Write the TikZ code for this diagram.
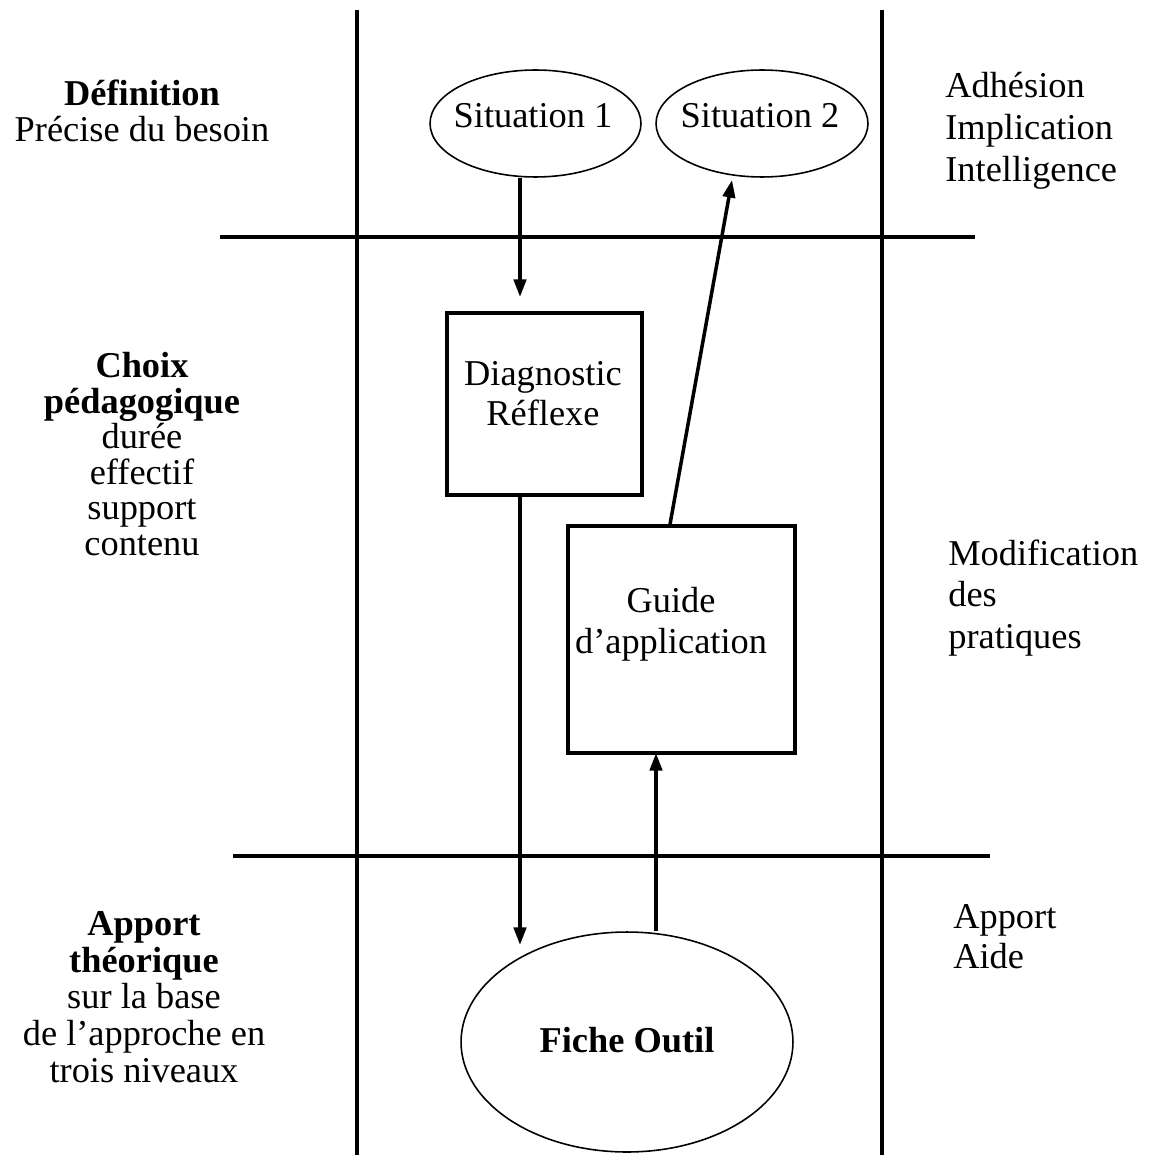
\documentclass[tikz,border=0pt]{standalone}
\usepackage{fontspec}
\setmainfont{Liberation Serif}
\usetikzlibrary{arrows.meta, shapes.geometric}

\tikzset{
  sep/.style={line width=2pt},
  arr/.style={line width=2pt, -{Triangle[length=10pt, width=7pt]}},
  sit/.style={ellipse, draw, line width=0.9pt},
  boite/.style={rectangle, draw, line width=2pt},
  txt/.style={inner sep=0pt, anchor=base, font=\fontsize{20.7}{21}\selectfont}
}

\begin{document}
\begin{tikzpicture}[x=0.02cm, y=-0.02cm]
\useasboundingbox (0,0) rectangle (1152,1155);
% grille
\draw[sep] (357,10) -- (357,1155);
\draw[sep] (882,10) -- (882,1155);
\draw[sep] (220,237) -- (975,237);
\draw[sep] (233,856) -- (990,856);

% formes
\node[sit, minimum width=4.22cm, minimum height=2.14cm] (s1) at (535.5,123.5) {};
\node[sit, minimum width=4.24cm, minimum height=2.14cm] (s2) at (762,123.5) {};
\node[boite, minimum width=3.9cm, minimum height=3.64cm] (diag) at (544.5,404) {};
\node[boite, minimum width=4.54cm, minimum height=4.54cm] (guide) at (681.5,639.5) {};
\node[sit, minimum width=6.64cm, minimum height=4.4cm] (fiche) at (627,1042) {};

\node[txt] (s1t) at (533,128) {Situation 1};
\node[txt] (s2t) at (760,128) {Situation 2};
\node[txt, align=center, font=\fontsize{20.7}{22.7}\selectfont] (diagt) at (543,425) {Diagnostic\\Réflexe};
\node[txt, align=center, font=\fontsize{20.7}{23.2}\selectfont] (guidet) at (671,653) {Guide\\d’application};
\node[txt] (fichet) at (627,1052) {\bfseries Fiche Outil};

% fleches
\coordinate (a1) at (520,297);
\coordinate (a2) at (520,945);
\coordinate (a3) at (656,753);
\coordinate (a4) at (732,180);
\draw[arr] (s1.south -| a1) -- (a1);
\draw[arr] (diag.south -| a2) -- (a2);
\draw[arr] (fiche.north -| a3) -- (a3);
\draw[arr] (guide.north -| 670,0) -- (a4);

% colonne gauche
\node[txt, align=center, font=\fontsize{20.7}{21}\selectfont] (defin) at (142,142) {\textbf{Définition}\\Précise du besoin};
\node[txt, align=center, font=\fontsize{20.7}{20.2}\selectfont] (choix) at (142,555) {\textbf{Choix}\\\textbf{pédagogique}\\durée\\effectif\\support\\contenu};
\node[txt, align=center, font=\fontsize{20.7}{20.8}\selectfont] (theo) at (144,1082) {\textbf{Apport}\\\textbf{théorique}\\sur la base\\de l’approche en\\trois niveaux};

% colonne droite
\node[txt, align=left, anchor=base west, font=\fontsize{20.7}{24.1}\selectfont] (adh) at (945,182) {Adhésion\\Implication\\Intelligence};
\node[txt, align=left, anchor=base west, font=\fontsize{20.7}{23.5}\selectfont] (modif) at (948,648) {Modification\\des\\pratiques};
\node[txt, align=left, anchor=base west, font=\fontsize{20.7}{22.7}\selectfont] (aide) at (953,968) {Apport\\Aide};
\end{tikzpicture}
\end{document}
